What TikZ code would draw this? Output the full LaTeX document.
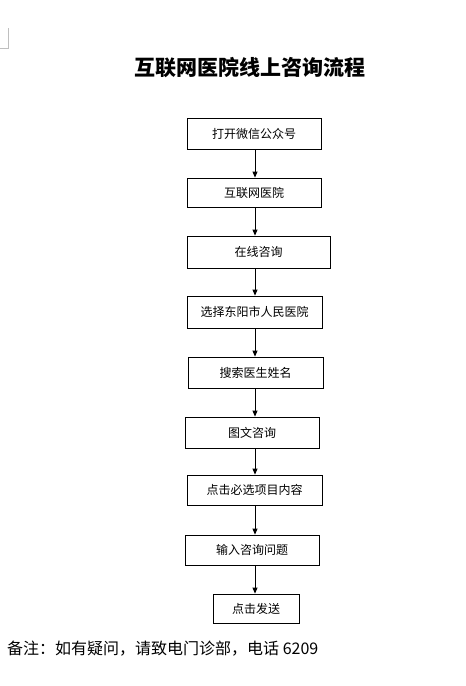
\documentclass[tikz,border=0pt]{standalone}
\usepackage{fontspec}
\newfontfamily\cjk{Noto Sans CJK SC}
\usetikzlibrary{arrows.meta}

\begin{document}
\begin{tikzpicture}[x=1pt,y=-1pt,
    stepbox/.style={draw,line width=0.8pt,inner sep=0pt,font=\cjk\fontsize{12}{14}\selectfont},
    flow/.style={line width=0.8pt,-{Triangle[length=6pt,width=5pt]}}]

\useasboundingbox (0,0) rectangle (466,686);

% page corner mark
\draw[gray!50,line width=0.6pt] (8,28) -- (8,48) -- (0,48);

\node[font=\cjk\bfseries\fontsize{21}{24}\selectfont] (title) at (250,68) {互联网医院线上咨询流程};

\node[stepbox,minimum width=134,minimum height=31] (wechat) at (254,133.5) {打开微信公众号};
\node[stepbox,minimum width=134,minimum height=29] (hosp) at (254,192.5) {互联网医院};
\node[stepbox,minimum width=143,minimum height=32] (online) at (258.5,252) {在线咨询};
\node[stepbox,minimum width=135,minimum height=32] (dongyang) at (254.5,312) {选择东阳市人民医院};
\node[stepbox,minimum width=135,minimum height=31] (doctor) at (255.5,372.5) {搜索医生姓名};
\node[stepbox,minimum width=134,minimum height=31] (text) at (252,432.5) {图文咨询};
\node[stepbox,minimum width=135,minimum height=30] (items) at (254.5,490) {点击必选项目内容};
\node[stepbox,minimum width=134,minimum height=30] (question) at (252,550) {输入咨询问题};
\node[stepbox,minimum width=86,minimum height=29] (send) at (256,608.5) {点击发送};

\coordinate (axis) at (255,0);
\foreach \a/\b in {wechat/hosp,hosp/online,online/dongyang,dongyang/doctor,
    doctor/text,text/items,items/question,question/send} {
    \draw[flow] (\a.south -| axis) -- (\b.north -| axis);
}

\node[anchor=west,inner sep=0pt,font=\cjk\fontsize{16}{18}\selectfont] (note) at (7,649)
    {备注：如有疑问，请致电门诊部，电话 6209};
\end{tikzpicture}
\end{document}
